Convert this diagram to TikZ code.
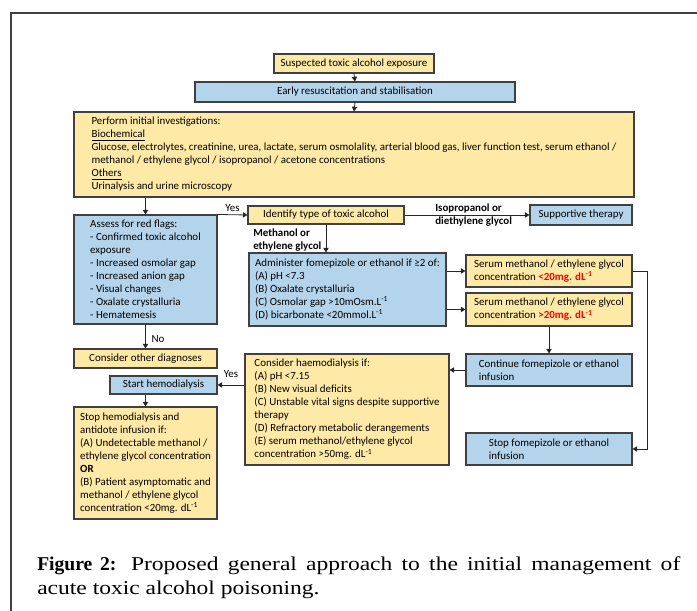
\documentclass[tikz,border=0pt]{standalone}
\usepackage{fontspec}
\setmainfont{Carlito}
\newfontfamily\captionfont[FakeStretch=1.2]{Liberation Serif}
\newfontfamily\captionbold{Liberation Serif}
\usetikzlibrary{arrows.meta}

\definecolor{boxyellow}{HTML}{FFE9A6}
\definecolor{boxblue}{HTML}{B4D4EC}
\definecolor{edgegray}{HTML}{404040}

\tikzset{
    box/.style={draw=edgegray, line width=0.8pt, align=left, inner sep=0pt,
        font=\fontsize{8.2}{9.75}\selectfont},
    yellowbox/.style={box, fill=boxyellow},
    bluebox/.style={box, fill=boxblue},
    link/.style={draw=black!85, line width=0.6pt, -{Triangle[length=3.5pt,width=4pt]}},
    flowlabel/.style={inner sep=0pt, align=left, font=\fontsize{8.2}{9.75}\selectfont}
}

\begin{document}
\begin{tikzpicture}[x=0.75pt, y=-0.75pt]
    \useasboundingbox (0,0) rectangle (697,611);

    % Open frame (top and left edges only)
    \draw[edgegray, line width=1.2pt] (11,611) -- (11,13) -- (697,13);

    % Top of the chart
    \node[yellowbox, minimum width=120pt, minimum height=14.25pt] (susp) at (354,63.5) {Suspected toxic alcohol exposure};
    \node[bluebox, minimum width=240pt, minimum height=15pt] (resus) at (355,92) {Early resuscitation and stabilisation};
    \node[yellowbox, minimum width=420pt, minimum height=63.75pt] (invest) at (354,154.5) {Perform initial investigations:\\
        \underline{Biochemical}\\
        Glucose, electrolytes, creatinine, urea, lactate, serum osmolality, arterial blood gas, liver function test, serum ethanol /\\
        methanol / ethylene glycol / isopropanol / acetone concentrations\\
        \underline{Others}\\
        Urinalysis and urine microscopy};

    % Left column
    \node[bluebox, minimum width=107.25pt, minimum height=81.75pt] (redflags) at (145.5,269.5) {Assess for red flags:\\- Confirmed toxic alcohol\\exposure\\- Increased osmolar gap\\- Increased anion gap\\- Visual changes\\- Oxalate crystalluria\\- Hematemesis};
    \node[yellowbox, minimum width=107.25pt, minimum height=14.25pt] (other) at (145.5,358.5) {Consider other diagnoses};
    \node[bluebox, minimum width=80.25pt, minimum height=13.5pt] (starthd) at (163.5,385) {Start hemodialysis};
    \node[yellowbox, minimum width=107.25pt, minimum height=84pt] (stophd) at (145.5,463) {Stop hemodialysis and\\antidote infusion if:\\(A) Undetectable methanol /\\ethylene glycol concentration\\\textbf{OR}\\(B) Patient asymptomatic and\\methanol / ethylene glycol\\concentration <20mg. dL\textsuperscript{-1}};

    % Middle column
    \node[yellowbox, minimum width=117pt, minimum height=13.5pt] (identify) at (326,215) {Identify type of toxic alcohol};
    \node[bluebox, minimum width=147.75pt, minimum height=54.75pt] (admin) at (347.5,289.5) {Administer fomepizole or ethanol if ≥2 of:\\(A) pH <7.3\\(B) Oxalate crystalluria\\(C) Osmolar gap >10mOsm.L\textsuperscript{-1}\\(D) bicarbonate <20mmol.L\textsuperscript{-1}};
    \node[yellowbox, minimum width=153pt, minimum height=83.25pt] (considerhd) at (347,409.5) {Consider haemodialysis if:\\(A) pH <7.15\\(B) New visual deficits\\(C) Unstable vital signs despite supportive\\therapy\\(D) Refractory metabolic derangements\\(E) serum methanol/ethylene glycol\\concentration >50mg. dL\textsuperscript{-1}};

    % Right column
    \node[bluebox, minimum width=76.5pt, minimum height=15pt] (support) at (581,215) {Supportive therapy};
    \node[yellowbox, minimum width=124.5pt, minimum height=24pt] (lowconc) at (549,271) {Serum methanol / ethylene glycol\\concentration \textcolor{red}{\textbf{<20mg. dL\textsuperscript{-1}}}};
    \node[yellowbox, minimum width=124.5pt, minimum height=24.75pt] (highconc) at (549,309.5) {Serum methanol / ethylene glycol\\concentration \textcolor{red}{\textbf{>20mg. dL\textsuperscript{-1}}}};
    \node[bluebox, minimum width=124.5pt, minimum height=24pt] (contin) at (549,370) {Continue fomepizole or ethanol\\infusion};
    \node[bluebox, minimum width=124.5pt, minimum height=24pt] (stopfom) at (549,449) {Stop fomepizole or ethanol\\infusion};

    % Straight arrows down the chart
    \foreach \a/\b in {susp/resus, resus/invest, redflags/other, highconc/contin} {
        \draw[link] (\a.south) -- (\b.north);
    }
    \draw[link] (redflags.north |- invest.south) -- (redflags.north);
    \draw[link] (identify.south) -- (identify.south |- admin.north);
    \draw[link] (stophd.north |- starthd.south) -- (stophd.north);

    % Side arrows
    \draw[link] (redflags.north east) -- (identify.west);
    \draw[link] (identify.east) -- (support.west);
    \draw[link] (admin.east |- lowconc.west) -- (lowconc.west);
    \draw[link] (admin.east |- highconc.west) -- (highconc.west);
    \draw[link] (contin.west) -- (contin.west -| considerhd.east);
    \draw[link] (considerhd.west |- starthd.east) -- (starthd.east);
    \draw[link] (lowconc.east) -- ++(15,0) |- (stopfom.east);

    % Labels on the arrows
    \node[flowlabel] (yestop) at (232.5,208) {Yes};
    \node[flowlabel] (yeslow) at (231,374) {Yes};
    \node[flowlabel] (nolab) at (158,339) {No};
    \node[flowlabel, anchor=west, font=\fontsize{8.2}{9.75}\selectfont\bfseries] (isolab) at (435,215.5) {Isopropanol or\\diethylene glycol};
    \node[flowlabel, anchor=west, font=\fontsize{8.2}{9.75}\selectfont\bfseries] (methlab) at (253,240.5) {Methanol or\\ethylene glycol};

    % Caption
    \node[anchor=north west, inner sep=0pt, text width=482.25pt, align=justify,
        font=\captionfont\fontsize{14.7}{18.4}\selectfont] (caption) at (37,556)
        {{\captionbold\bfseries Figure 2:} Proposed general approach to the initial management of\linebreak acute toxic alcohol poisoning.};

\end{tikzpicture}
\end{document}
